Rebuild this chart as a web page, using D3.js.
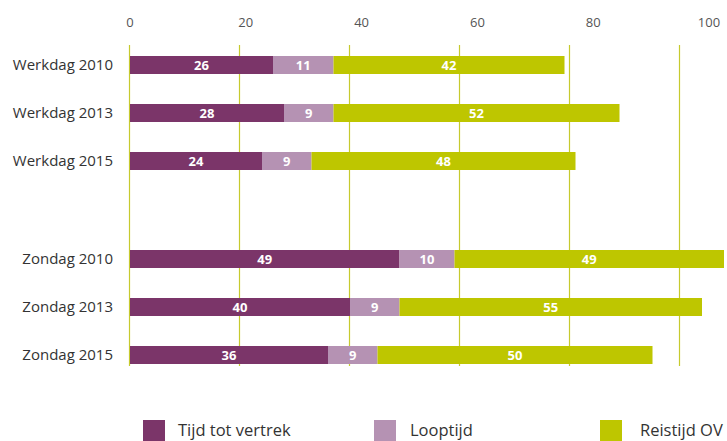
<!DOCTYPE html>
<html><head><meta charset="utf-8">
<script src="https://cdn.jsdelivr.net/npm/d3@7"></script>
<style>body{margin:0;background:#fff}svg{display:block}text{font-family:"Open Sans","Noto Sans",sans-serif}</style>
</head><body><svg id="c" width="727" height="441"></svg>
<script>
const categories = ["Werkdag 2010","Werkdag 2013","Werkdag 2015","Zondag 2010","Zondag 2013","Zondag 2015"];
const groups = [0,0,0,1,1,1];
const seriesNames = ["Tijd tot vertrek","Looptijd","Reistijd OV"];
const tijdTotVertrek = [26,28,24,49,40,36];
const looptijd = [11,9,9,10,9,9];
const reistijdOV = [42,52,48,49,55,50];
const ticks = [0,20,40,60,80,100];
const colors = ["#7b3569","#b592b3","#bec600"];

const svg = d3.select("#c");
const x = d3.scaleLinear().domain([0,100]).range([130,680]);
const xLabel = d3.scaleLinear().domain([0,100]).range([130,709]);
const y = d3.scaleBand().domain(categories).range([41,329]).paddingInner(0.625).paddingOuter(0.3125);
const groupGap = 50;
const yPos = (c,i) => y(c) + groups[i]*groupGap;

// gridlines
svg.append("g").selectAll("line").data(ticks).join("line")
  .attr("x1",d=>Math.round(x(d))-0.5).attr("x2",d=>Math.round(x(d))-0.5)
  .attr("y1",45).attr("y2",366)
  .attr("stroke","#c6ca2e").attr("stroke-width",1.2);

// tick labels
svg.append("g").selectAll("text").data(ticks).join("text")
  .attr("x",d=>xLabel(d)).attr("y",27).attr("text-anchor","middle")
  .attr("font-size",13).attr("fill","#555").text(d=>d);

// stacked data
const rows = categories.map((c,i)=>({cat:c,i,vals:[tijdTotVertrek[i],looptijd[i],reistijdOV[i]]}));
const stack = d3.stack().keys([0,1,2]).value((d,k)=>d.vals[k]);
const stacked = stack(rows);

const bh = y.bandwidth();
stacked.forEach((layer,k)=>{
  const g = svg.append("g");
  g.selectAll("rect").data(layer).join("rect")
    .attr("x",d=>x(d[0])).attr("width",d=>x(d[1])-x(d[0]))
    .attr("y",d=>yPos(d.data.cat,d.data.i)).attr("height",bh)
    .attr("fill",colors[k]);
  g.selectAll("text").data(layer).join("text")
    .attr("x",d=>(x(d[0])+x(d[1]))/2).attr("y",d=>yPos(d.data.cat,d.data.i)+bh/2+5)
    .attr("text-anchor","middle").attr("font-size",13).attr("font-weight","bold")
    .attr("fill","#fff").text(d=>d.data.vals[k]);
});

// category labels
svg.append("g").selectAll("text").data(categories).join("text")
  .attr("x",113).attr("y",(c,i)=>yPos(c,i)+bh/2+5).attr("text-anchor","end")
  .attr("font-size",15).attr("fill","#333").text(d=>d);

// legend
const legX = [143,374,600];
const lg = svg.append("g").selectAll("g").data(seriesNames).join("g")
  .attr("transform",(d,i)=>`translate(${legX[i]},420)`);
lg.append("rect").attr("width",22).attr("height",21).attr("fill",(d,i)=>colors[i]);
lg.append("text").attr("x",(d,i)=>[35,36,40][i]).attr("y",16).attr("font-size",16.5).attr("fill","#333").text(d=>d);
</script></body></html>
